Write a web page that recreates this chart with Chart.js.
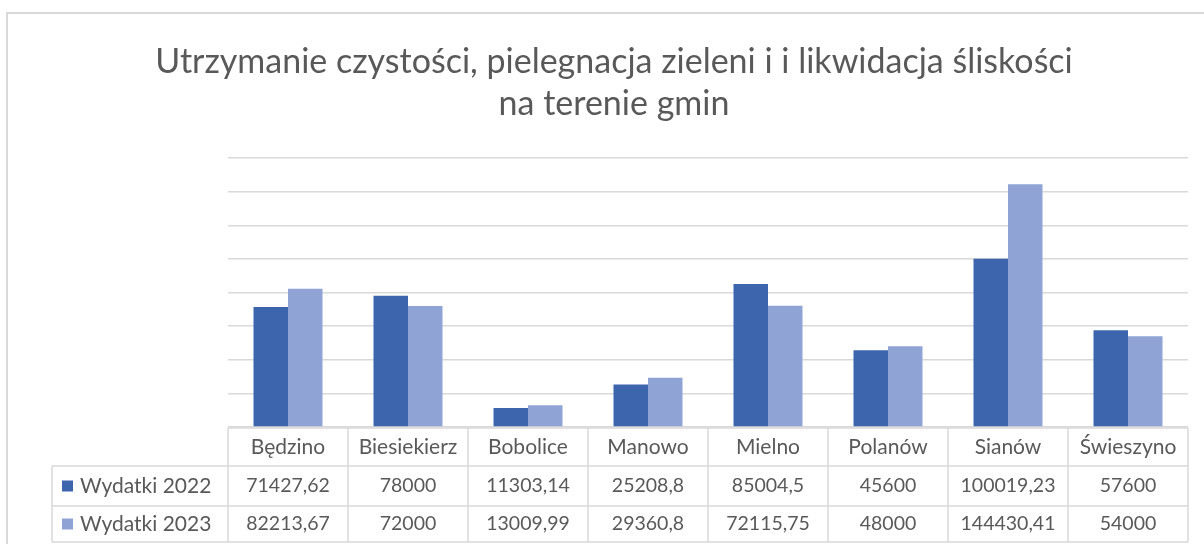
<!DOCTYPE html>
<html>
<head>
<meta charset="utf-8">
<script src="https://cdn.jsdelivr.net/npm/chart.js@4.4.1/dist/chart.umd.min.js"></script>
<style>
  html, body { margin: 0; padding: 0; background: #fff; }
  #wrap { width: 1204px; height: 544px; }
</style>
</head>
<body>
<div id="wrap"><canvas id="myChart" width="1204" height="544"></canvas></div>
<script>
const titleLines = ['Utrzymanie czystości, pielegnacja zieleni i i likwidacja śliskości', 'na terenie gmin'];
const categories = ['Będzino', 'Biesiekierz', 'Bobolice', 'Manowo', 'Mielno', 'Polanów', 'Sianów', 'Świeszyno'];
const seriesNames = ['Wydatki 2022', 'Wydatki 2023'];
const wydatki2022 = [71427.62, 78000, 11303.14, 25208.8, 85004.5, 45600, 100019.23, 57600];
const wydatki2023 = [82213.67, 72000, 13009.99, 29360.8, 72115.75, 48000, 144430.41, 54000];
const tableText2022 = ['71427,62', '78000', '11303,14', '25208,8', '85004,5', '45600', '100019,23', '57600'];
const tableText2023 = ['82213,67', '72000', '13009,99', '29360,8', '72115,75', '48000', '144430,41', '54000'];

const colors = ['#3d65ad', '#8fa4d4'];
const textColor = '#595959';
const lineColor = '#d9d9d9';
const fontFamily = 'Lato, "Open Sans", sans-serif';

// frame, title and the data table under the plot
const tablePlugin = {
    id: 'dataTable',
    beforeDraw(chart) {
        const ctx = chart.ctx;
        ctx.save();
        ctx.strokeStyle = lineColor;
        ctx.lineWidth = 2;
        ctx.strokeRect(7, 13, 1220, 560);

        ctx.fillStyle = textColor;
        ctx.font = '34px ' + fontFamily;
        ctx.textAlign = 'center';
        ctx.textBaseline = 'middle';
        ctx.fillText(titleLines[0], 614, 62);
        ctx.fillText(titleLines[1], 614, 104);
        ctx.restore();
    },
    afterDraw(chart) {
        const ctx = chart.ctx;
        const area = chart.chartArea;
        const x = chart.scales.x;
        const n = categories.length;
        const colW = (area.right - area.left) / n;
        const top = area.bottom + 1;
        const rowY = [top, 466, 506, 542];
        const legendLeft = 52;

        ctx.save();
        ctx.strokeStyle = lineColor;
        ctx.lineWidth = 1.5;
        ctx.beginPath();
        ctx.moveTo(area.left, rowY[0]); ctx.lineTo(area.right, rowY[0]);
        for (let i = 1; i < rowY.length; i++) {
            ctx.moveTo(legendLeft, rowY[i]); ctx.lineTo(area.right, rowY[i]);
        }
        for (let i = 0; i <= n; i++) {
            const lx = area.left + i * colW;
            ctx.moveTo(lx, rowY[0]); ctx.lineTo(lx, rowY[3]);
        }
        ctx.moveTo(legendLeft, rowY[1]); ctx.lineTo(legendLeft, rowY[3]);
        ctx.stroke();

        ctx.fillStyle = textColor;
        ctx.textAlign = 'center';
        ctx.textBaseline = 'middle';
        const rows = [tableText2022, tableText2023];
        categories.forEach((c, i) => {
            const cx = x.getPixelForValue(i);
            ctx.font = '21px ' + fontFamily;
            ctx.fillText(c, cx, (rowY[0] + rowY[1]) / 2);
            ctx.font = '19.5px ' + fontFamily;
            rows.forEach((r, j) => {
                ctx.fillText(r[i], cx, (rowY[j + 1] + rowY[j + 2]) / 2);
            });
        });

        ctx.textAlign = 'left';
        ctx.font = '21px ' + fontFamily;
        seriesNames.forEach((s, j) => {
            const cy = (rowY[j + 1] + rowY[j + 2]) / 2;
            ctx.fillStyle = colors[j];
            ctx.fillRect(62, cy - 5.5, 11, 11);
            ctx.fillStyle = textColor;
            ctx.fillText(s, 80, cy);
        });
        ctx.restore();
    }
};

const ctx = document.getElementById('myChart').getContext('2d');
const myChart = new Chart(ctx, {
    type: 'bar',
    data: {
        labels: categories,
        datasets: [
            { label: seriesNames[0], data: wydatki2022, backgroundColor: colors[0], borderWidth: 0 },
            { label: seriesNames[1], data: wydatki2023, backgroundColor: colors[1], borderWidth: 0 }
        ]
    },
    options: {
        responsive: false,
        animation: false,
        layout: {
            padding: { left: 228, right: 16, top: 158, bottom: 117 }
        },
        datasets: {
            bar: { categoryPercentage: 0.575, barPercentage: 1.0 }
        },
        scales: {
            x: { display: false },
            y: {
                min: 0,
                max: 160000,
                ticks: { display: false, stepSize: 20000 },
                border: { display: false },
                grid: { color: lineColor, lineWidth: 1.5, drawTicks: false }
            }
        },
        plugins: {
            legend: { display: false },
            tooltip: { enabled: false },
            title: { display: false }
        }
    },
    plugins: [tablePlugin]
});
</script>
</body>
</html>
